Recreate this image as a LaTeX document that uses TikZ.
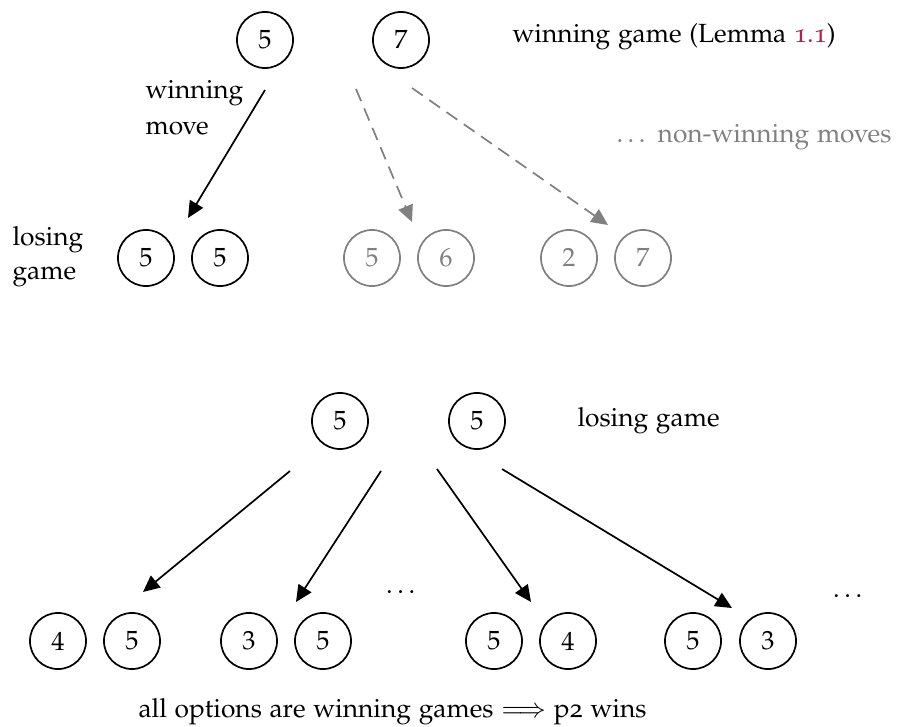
\documentclass[tikz,border=0pt]{standalone}
\usepackage[T1]{fontenc}
\usepackage[osf]{mathpazo}
\usetikzlibrary{arrows.meta}
\definecolor{linkred}{RGB}{190,30,70}
\definecolor{halfgray}{gray}{0.5}
\tikzset{
  heap/.style={circle, draw, line width=0.65pt, minimum size=21.3pt, inner sep=0pt},
  greyheap/.style={heap, draw=halfgray, text=halfgray},
  move/.style={line width=0.65pt, -{Triangle[length=6.3pt,width=5.8pt]}},
  greymove/.style={move, halfgray, dash pattern=on 5pt off 3pt},
  lbl/.style={inner sep=0pt, align=left},
}
\begin{document}
\begin{tikzpicture}[x=0.38pt, y=-0.38pt]
\useasboundingbox (0,0) rectangle (898,727);

% ---- upper part: a winning game and its moves ----
\node[heap] (w1) at (265,40) {$5$};
\node[heap] (w2) at (401,40) {$7$};
\node[lbl, anchor=west] (wtitle) at (512,37) {winning game (Lemma \textcolor{linkred}{1.1})};
\node[lbl, anchor=north west] (wmove) at (145,80) {winning\\[1.5pt]move};
\node[lbl, anchor=west, text=halfgray] (nonwin) at (616,137) {\dots\ non-winning moves};

\node[lbl, anchor=west] (lgame) at (12,257) {losing\\[1pt]game};
\node[heap] (a1) at (146,258) {$5$};
\node[heap] (a2) at (220,258) {$5$};
\node[greyheap] (b1) at (372,258) {$5$};
\node[greyheap] (b2) at (446,258) {$6$};
\node[greyheap] (c1) at (569,258) {$2$};
\node[greyheap] (c2) at (643,258) {$7$};

\coordinate (s1) at (265,90);
\coordinate (t1) at (188,218);
\coordinate (s2) at (356,89);
\coordinate (t2) at (412,222);
\coordinate (s3) at (412,88);
\coordinate (t3) at (608,225);
\draw[move] (s1) -- (t1);
\draw[greymove] (s2) -- (t2);
\draw[greymove] (s3) -- (t3);

% ---- lower part: a losing game and its options ----
\node[heap] (l1) at (340,421) {$5$};
\node[heap] (l2) at (477,421) {$5$};
\node[lbl, anchor=west] (ltitle) at (577,421) {losing game};

\node[heap] (d1) at (58,641) {$4$};
\node[heap] (d2) at (132,641) {$5$};
\node[heap] (e1) at (249,641) {$3$};
\node[heap] (e2) at (323,641) {$5$};
\node[heap] (f1) at (494,641) {$5$};
\node[heap] (f2) at (568,641) {$4$};
\node[heap] (g1) at (693,641) {$5$};
\node[heap] (g2) at (768,641) {$3$};
\node[lbl] (dots1) at (403,592) {\dots};
\node[lbl] (dots2) at (850,596) {\dots};

\coordinate (u1) at (290,471);
\coordinate (v1) at (143,592);
\coordinate (u2) at (381,471);
\coordinate (v2) at (296,602);
\coordinate (u3) at (437,469);
\coordinate (v3) at (531,602);
\coordinate (u4) at (502,469);
\coordinate (v4) at (732,608);
\draw[move] (u1) -- (v1);
\draw[move] (u2) -- (v2);
\draw[move] (u3) -- (v3);
\draw[move] (u4) -- (v4);

\node[lbl, anchor=base west] (concl) at (138,717) {all options are winning games $\Longrightarrow$ p2 wins};
\end{tikzpicture}
\end{document}
